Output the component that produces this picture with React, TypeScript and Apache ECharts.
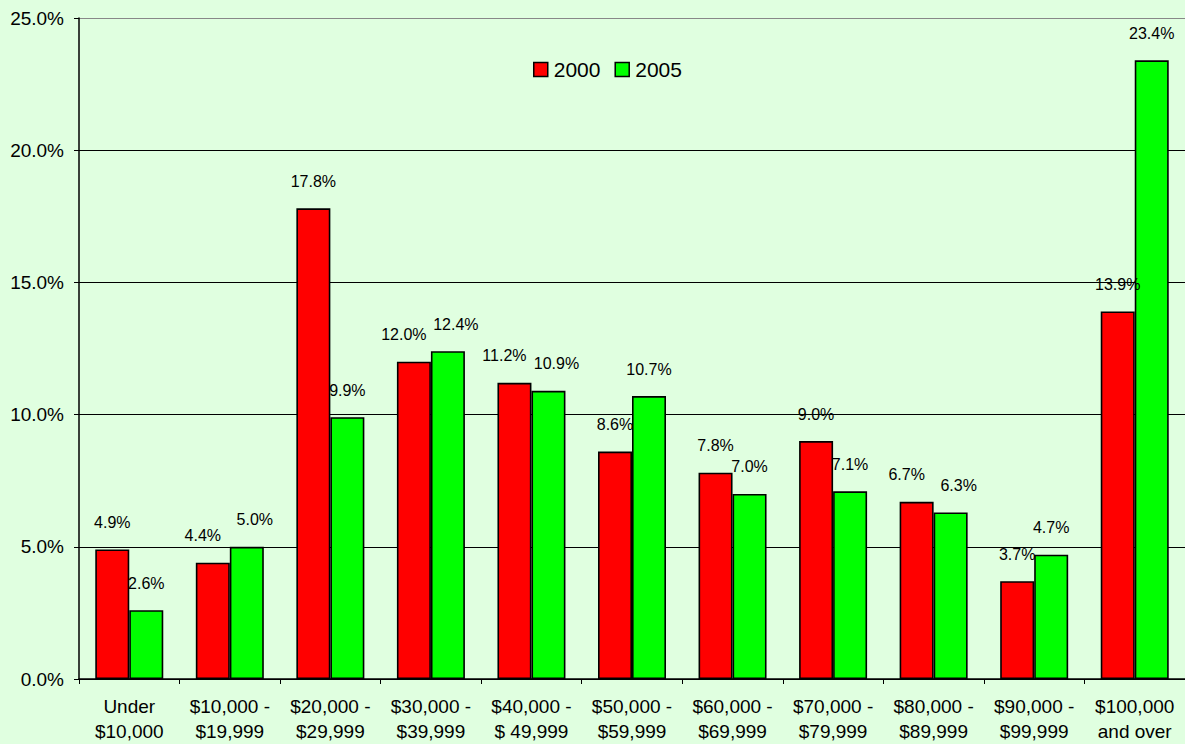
import React, { useEffect, useRef } from "react";
import * as echarts from "echarts";

const categories = [
  "Under\n$10,000",
  "$10,000 -\n$19,999",
  "$20,000 -\n$29,999",
  "$30,000 -\n$39,999",
  "$40,000 -\n$ 49,999",
  "$50,000 -\n$59,999",
  "$60,000 -\n$69,999",
  "$70,000 -\n$79,999",
  "$80,000 -\n$89,999",
  "$90,000 -\n$99,999",
  "$100,000\nand over",
];
const values2000 = [4.9, 4.4, 17.8, 12.0, 11.2, 8.6, 7.8, 9.0, 6.7, 3.7, 13.9];
const values2005 = [2.6, 5.0, 9.9, 12.4, 10.9, 10.7, 7.0, 7.1, 6.3, 4.7, 23.4];
const seriesNames = ["2000", "2005"];
const yTicks = { min: 0, max: 25, interval: 5 };

const FONT = "'Liberation Sans', Arial, sans-serif";

export default function App() {
  const ref = useRef<HTMLDivElement>(null);
  useEffect(() => {
    if (!ref.current) return;
    const chart = echarts.init(ref.current, null, { renderer: "svg" });
    const label = {
      show: true,
      position: "top",
      distance: 19,
      color: "#000",
      fontFamily: FONT,
      fontSize: 16,
      formatter: (p: any) => Number(p.value).toFixed(1) + "%",
    };
    // nudge paired labels sideways when they would collide vertically
    const close = (i: number) => Math.abs(values2000[i] - values2005[i]) < 0.7;
    chart.setOption({
      animation: false,
      backgroundColor: "#e0ffe0",
      textStyle: { fontFamily: FONT },
      legend: {
        left: 533,
        top: 59,
        padding: 0,
        icon: "rect",
        itemWidth: 14,
        itemHeight: 14,
        itemGap: 14,
        itemStyle: { borderColor: "#000", borderWidth: 1.5 },
        textStyle: { fontSize: 21, color: "#000", fontFamily: FONT, padding: [0, 0, 0, 1] },
        data: seriesNames,
      },
      grid: { left: 79, top: 18, bottom: 64, right: -6, containLabel: false },
      xAxis: {
        type: "category",
        data: categories,
        axisLine: { lineStyle: { color: "#000", width: 1.5 } },
        axisTick: { show: true, length: 5, lineStyle: { color: "#000" } },
        axisLabel: {
          interval: 0,
          margin: 15,
          color: "#000",
          fontSize: 19,
          lineHeight: 25,
          fontFamily: FONT,
        },
      },
      yAxis: {
        type: "value",
        min: yTicks.min,
        max: yTicks.max,
        interval: yTicks.interval,
        axisLine: { show: true, lineStyle: { color: "#000", width: 1.5 } },
        axisTick: { show: true, length: 5, lineStyle: { color: "#000" } },
        axisLabel: {
          margin: 15,
          color: "#000",
          fontSize: 19,
          fontFamily: FONT,
          formatter: (v: number) => v.toFixed(1) + "%",
        },
        splitLine: {
          show: true,
          lineStyle: {
            color: ["#000", "#000", "#000", "#000", "#000", "#888"],
            width: 1.2,
          },
        },
      },
      series: [
        {
          name: seriesNames[0],
          type: "bar",
          data: values2000,
          barWidth: 34,
          barGap: "0%",
          itemStyle: { color: "#ff0000", borderColor: "#000", borderWidth: 1.6 },
          label,
          labelLayout: (p: any) => (close(p.dataIndex) ? { dx: -10 } : {}),
        },
        {
          name: seriesNames[1],
          type: "bar",
          data: values2005,
          barWidth: 34,
          barGap: "0%",
          itemStyle: { color: "#00ff00", borderColor: "#000", borderWidth: 1.6 },
          label,
          labelLayout: (p: any) => (close(p.dataIndex) ? { dx: 8 } : {}),
        },
      ],
    });
    return () => chart.dispose();
  }, []);
  return (
    <div
      ref={ref}
      style={{ position: "absolute", left: 0, top: 0, width: 1185, height: 744 }}
    />
  );
}
